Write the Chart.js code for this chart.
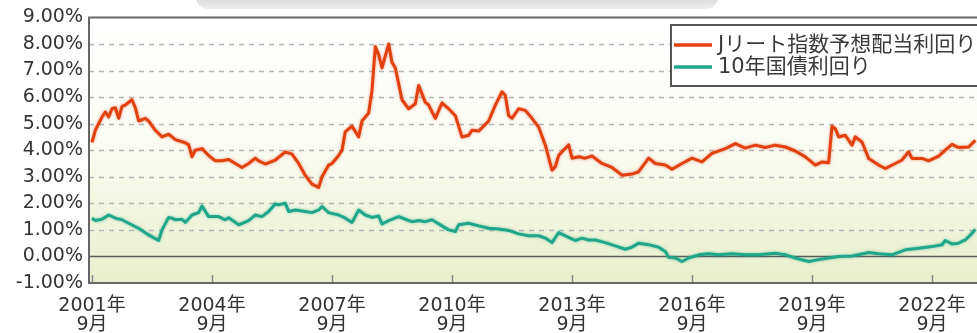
<!DOCTYPE html>
<html lang="ja">
<head>
<meta charset="utf-8">
<title>Jリート指数予想配当利回りと10年国債利回り</title>
<script src="https://cdn.jsdelivr.net/npm/chart.js@4/dist/chart.umd.min.js"></script>
<style>
  html, body { margin: 0; padding: 0; background: #fff; }
  #wrap { width: 977px; height: 333px; position: relative; }
</style>
</head>
<body>
<div id="wrap"><canvas id="yieldChart"></canvas></div>
<script>
// months counted from 2001/9 (0 = 2001年9月)
const reitMonths = [0,1,3,4,5,6,7,8,9,10,12,13,14,16,17,19,21,23,25,28,29,30,31,33,35,37,39,41,43,45,47,49,50,52,55,58,60,62,64,66,68,69,71,72,74,75,76,78,80,81,83,84,85,86,87,89,90,91,93,95,97,98,100,101,103,105,107,109,111,113,114,116,119,121,123,124,125,126,128,130,132,134,136,138,139,140,141,143,144,146,148,150,153,156,159,162,164,167,169,172,174,177,180,183,186,190,193,196,199,202,205,208,211,214,217,219,221,222,223,224,226,228,229,231,233,236,238,241,243,245,246,249,251,254,256,258,260,263,265];
const reitYields = [4.3,4.75,5.25,5.44,5.25,5.56,5.6,5.2,5.65,5.7,5.9,5.6,5.1,5.2,5.1,4.75,4.5,4.6,4.4,4.28,4.2,3.75,4.0,4.06,3.8,3.6,3.6,3.65,3.5,3.35,3.5,3.7,3.6,3.48,3.63,3.94,3.85,3.5,3.05,2.72,2.6,3.0,3.44,3.5,3.8,4.0,4.7,4.9,4.5,5.1,5.4,6.25,7.9,7.6,7.1,8.0,7.3,7.1,5.9,5.56,5.75,6.44,5.8,5.7,5.2,5.78,5.56,5.3,4.5,4.56,4.75,4.72,5.1,5.7,6.2,6.06,5.3,5.2,5.56,5.5,5.2,4.87,4.19,3.25,3.38,3.8,3.94,4.2,3.7,3.75,3.7,3.78,3.5,3.35,3.06,3.1,3.19,3.7,3.5,3.44,3.28,3.5,3.7,3.56,3.88,4.06,4.25,4.08,4.19,4.1,4.19,4.12,3.97,3.75,3.44,3.56,3.53,4.9,4.81,4.5,4.56,4.19,4.5,4.31,3.69,3.44,3.31,3.5,3.63,3.94,3.69,3.69,3.6,3.78,4.0,4.22,4.1,4.12,4.37];

const jgbMonths = [0,1,3,5,7,9,11,14,17,20,21,23,24,25,27,28,30,32,33,35,38,40,41,44,47,49,51,53,55,56,58,59,61,64,66,68,69,71,74,76,78,80,82,84,86,87,89,92,94,96,98,100,102,105,107,109,110,113,116,119,122,125,128,131,134,136,138,140,143,145,147,149,151,154,157,160,162,164,167,170,172,173,175,177,179,182,185,188,192,196,200,205,208,211,215,218,221,224,228,233,236,240,244,248,252,255,256,258,260,262,264,265];
const jgbYields = [1.44,1.35,1.4,1.56,1.44,1.38,1.25,1.06,0.81,0.6,1.0,1.47,1.44,1.38,1.4,1.28,1.56,1.65,1.9,1.5,1.5,1.38,1.46,1.19,1.35,1.56,1.5,1.69,1.98,1.94,2.0,1.69,1.75,1.69,1.65,1.75,1.88,1.65,1.56,1.44,1.28,1.75,1.56,1.47,1.52,1.22,1.35,1.5,1.4,1.31,1.35,1.31,1.38,1.15,1.0,0.94,1.19,1.25,1.15,1.06,1.03,0.98,0.85,0.78,0.78,0.69,0.52,0.9,0.72,0.6,0.69,0.62,0.62,0.52,0.4,0.27,0.35,0.5,0.44,0.35,0.19,-0.03,-0.06,-0.19,-0.06,0.06,0.1,0.06,0.1,0.06,0.06,0.12,0.06,-0.06,-0.19,-0.12,-0.06,0.0,0.02,0.15,0.1,0.06,0.25,0.31,0.37,0.44,0.6,0.47,0.5,0.62,0.87,1.02];

const tickMonths = [0, 36, 72, 108, 144, 180, 216, 252];
const tickLabels = [
  ['2001年', '9月'], ['2004年', '9月'], ['2007年', '9月'], ['2010年', '9月'],
  ['2013年', '9月'], ['2016年', '9月'], ['2019年', '9月'], ['2022年', '9月']
];
const yTicks = [-1, 0, 1, 2, 3, 4, 5, 6, 7, 8, 9];

const seriesNames = ['Jリート指数予想配当利回り', '10年国債利回り'];
const seriesColors = ['#e2400f', '#1fa68b'];

const FONT = '"DejaVu Sans", "Noto Sans CJK JP", sans-serif';

// plot background gradient + dashed grid + zero line
const plotBg = {
  id: 'plotBg',
  beforeDraw(chart) {
    // faint grey tab edge peeking in at the top of the picture
    const ctx = chart.ctx;
    ctx.save();
    const g = ctx.createLinearGradient(0, 0, 0, 10);
    g.addColorStop(0, '#dcdcdc');
    g.addColorStop(1, '#f1f1f1');
    ctx.fillStyle = g;
    ctx.beginPath();
    ctx.roundRect(196, -20, 522, 29, 12);
    ctx.fill();
    ctx.restore();
  },
  beforeDatasetsDraw(chart) {
    const { ctx, chartArea: a, scales } = chart;
    ctx.save();
    const g = ctx.createLinearGradient(0, a.top, 0, a.bottom);
    g.addColorStop(0, '#ffffff');
    g.addColorStop(0.45, '#fbfcf4');
    g.addColorStop(1, '#e8efcb');
    ctx.fillStyle = g;
    ctx.fillRect(a.left, a.top, a.right - a.left, a.bottom - a.top);

    yTicks.forEach(v => {
      if (v === scales.y.min || v === scales.y.max) return;
      const y = Math.round(scales.y.getPixelForValue(v)) + 0.5;
      ctx.beginPath();
      if (v === 0) {
        ctx.setLineDash([]);
        ctx.strokeStyle = '#5a5a5a';
        ctx.lineWidth = 1.5;
      } else {
        ctx.setLineDash([5, 5]);
        ctx.strokeStyle = '#b4b4b4';
        ctx.lineWidth = 1.5;
      }
      ctx.moveTo(a.left, y);
      ctx.lineTo(a.right, y);
      ctx.stroke();
    });
    ctx.setLineDash([]);
    // inner tick marks on x axis
    ctx.strokeStyle = '#8a8a8a';
    ctx.lineWidth = 1.5;
    tickMonths.forEach(m => {
      const x = Math.round(scales.x.getPixelForValue(m)) + 0.5;
      ctx.beginPath();
      ctx.moveTo(x, a.bottom - 8);
      ctx.lineTo(x, a.bottom);
      ctx.stroke();
    });
    ctx.restore();
  },
  afterDatasetsDraw(chart) {
    const { ctx, chartArea: a } = chart;
    ctx.save();
    ctx.strokeStyle = '#666';
    ctx.lineWidth = 2;
    ctx.beginPath();
    ctx.moveTo(a.right + 2, a.top);
    ctx.lineTo(a.left, a.top);
    ctx.lineTo(a.left, a.bottom);
    ctx.lineTo(a.right + 2, a.bottom);
    ctx.stroke();
    ctx.restore();
  }
};

// soft glow on the lines
const glow = {
  id: 'glow',
  beforeDatasetDraw(chart, args) {
    const ctx = chart.ctx;
    ctx.save();
    ctx.shadowColor = args.meta.dataset.options.borderColor + '88';
    ctx.shadowBlur = 3;
  },
  afterDatasetDraw(chart) {
    chart.ctx.restore();
  }
};

// legend box, cut off at the right like the original
const boxLegend = {
  id: 'boxLegend',
  afterDraw(chart) {
    const ctx = chart.ctx;
    ctx.save();
    ctx.fillStyle = '#fff';
    ctx.fillRect(671, 25, 320, 61);
    ctx.strokeStyle = '#555';
    ctx.lineWidth = 2;
    ctx.strokeRect(671, 25, 320, 61);
    ctx.font = '21px ' + FONT;
    ctx.textBaseline = 'middle';
    chart.data.datasets.forEach((ds, i) => {
      const y = 45 + i * 22;
      ctx.strokeStyle = ds.borderColor;
      ctx.lineWidth = 3.5;
      ctx.beginPath();
      ctx.moveTo(674, y);
      ctx.lineTo(712, y);
      ctx.stroke();
      ctx.fillStyle = '#3a3a3a';
      ctx.fillText(ds.label, 718, y + 1);
    });
    ctx.restore();
  }
};

new Chart(document.getElementById('yieldChart'), {
  type: 'line',
  data: {
    datasets: [
      {
        label: seriesNames[0],
        data: reitMonths.map((m, i) => ({ x: m, y: reitYields[i] })),
        borderColor: seriesColors[0],
        borderWidth: 3,
        pointRadius: 0,
        tension: 0,
        borderJoinStyle: 'round'
      },
      {
        label: seriesNames[1],
        data: jgbMonths.map((m, i) => ({ x: m, y: jgbYields[i] })),
        borderColor: seriesColors[1],
        borderWidth: 3,
        pointRadius: 0,
        tension: 0,
        borderJoinStyle: 'round'
      }
    ]
  },
  options: {
    responsive: true,
    maintainAspectRatio: false,
    animation: false,
    layout: { padding: { top: 16, right: 0, left: 0, bottom: 0 } },
    plugins: {
      legend: { display: false },
      tooltip: { enabled: false }
    },
    scales: {
      x: {
        type: 'linear',
        min: -0.9,
        max: 265.5,
        grid: { display: false },
        border: { display: false },
        afterBuildTicks: scale => { scale.ticks = tickMonths.map(v => ({ value: v })); },
        afterFit: scale => { scale.height = 50; },
        ticks: {
          autoSkip: false,
          maxRotation: 0,
          padding: 6,
          color: '#333',
          font: { family: FONT, size: 19, lineHeight: 1.0 },
          callback: v => tickLabels[tickMonths.indexOf(v)]
        }
      },
      y: {
        min: -1,
        max: 9,
        grid: { display: false, drawTicks: false },
        border: { display: false },
        afterBuildTicks: scale => { scale.ticks = yTicks.map(v => ({ value: v })); },
        afterFit: scale => { scale.width = 89; },
        ticks: {
          padding: 6,
          color: '#333',
          font: { family: FONT, size: 19 },
          callback: v => v.toFixed(2) + '%'
        }
      }
    }
  },
  plugins: [plotBg, glow, boxLegend]
});
</script>
</body>
</html>
